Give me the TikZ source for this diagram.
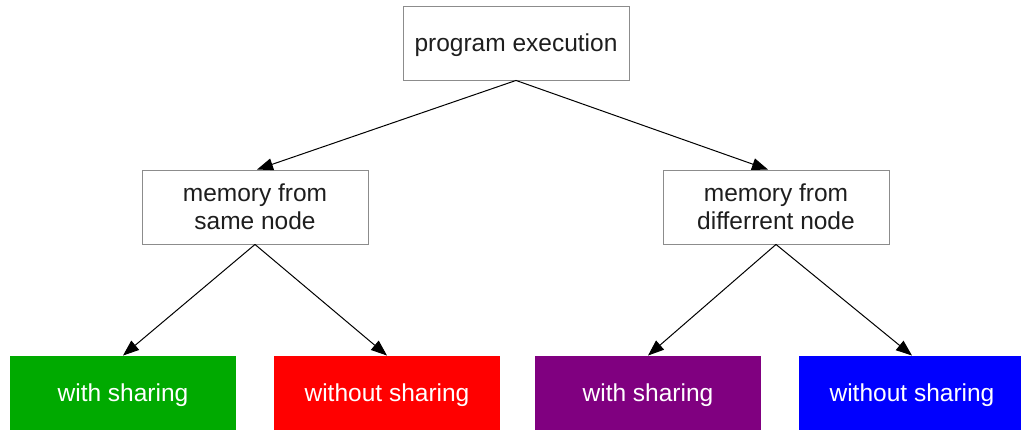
\documentclass[tikz,border=0pt]{standalone}
\usepackage{fontspec}
\setmainfont{Liberation Sans}
\usetikzlibrary{arrows.meta}
\definecolor{boxline}{HTML}{8C8C8C}
\definecolor{ink}{HTML}{1E1E1E}
\definecolor{leafgreen}{HTML}{00AA00}
\definecolor{leafred}{HTML}{FF0000}
\definecolor{leafpurple}{HTML}{800080}
\definecolor{leafblue}{HTML}{0000FF}
\tikzset{
  box/.style={draw=boxline, line width=0.9pt, fill=white, text=ink,
    minimum width=226pt, minimum height=74pt, inner sep=0pt,
    text height=20pt, text depth=2pt,
    align=center, font=\fontsize{24.5}{28}\selectfont},
  twoline/.style={text height=, text depth=},
  leaf/.style={box, draw=none, text=white},
  link/.style={draw=black, line width=1pt,
    -{Triangle[length=16pt,width=12pt]}}
}
\begin{document}
\begin{tikzpicture}[x=1pt,y=-1pt]
  \clip (0,0) rectangle (1021,430);
  \fill[white] (0,0) rectangle (1021,430);

  % root and the two memory kinds
  \node[box] (exec) at (516,43) {program execution};
  \node[box, twoline] (same) at (255,207) {memory from\\ same node};
  \node[box, twoline] (diff) at (776,207) {memory from\\ differrent node};

  % leaves
  \node[leaf, fill=leafgreen]  (sameWith)    at (123,393) {with sharing};
  \node[leaf, fill=leafred]    (sameWithout) at (387,393) {without sharing};
  \node[leaf, fill=leafpurple] (diffWith)    at (648,393) {with sharing};
  \node[leaf, fill=leafblue]   (diffWithout) at (912,393) {without sharing};

  % edges
  \draw[link] (exec.south) -- ([xshift=2pt]same.north);
  \draw[link] (exec.south) -- ([xshift=-8pt]diff.north);
  \draw[link] (same.south) -- (sameWith.north);
  \draw[link] (same.south) -- (sameWithout.north);
  \draw[link] (diff.south) -- (diffWith.north);
  \draw[link] (diff.south) -- (diffWithout.north);
\end{tikzpicture}
\end{document}
